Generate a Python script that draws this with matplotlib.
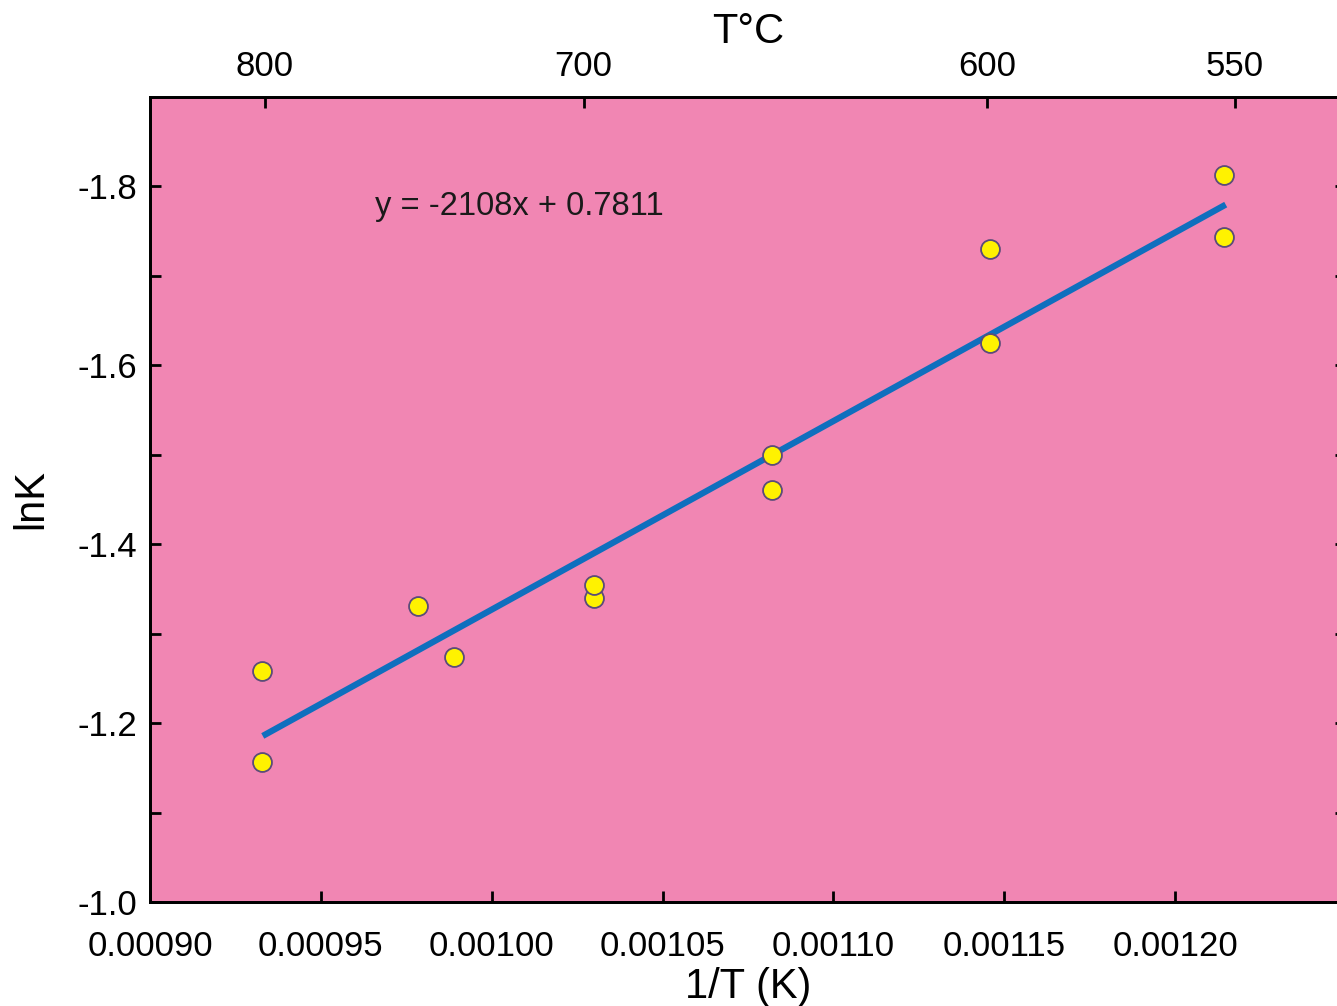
import numpy as np
import matplotlib
matplotlib.use('Agg')
import matplotlib.pyplot as plt
from matplotlib.ticker import FixedLocator

plt.rcParams['font.family'] = ['Liberation Sans', 'DejaVu Sans']

# data: 1/T (K^-1) and lnK
inv_t = [0.0009327, 0.0009327, 0.0009784, 0.0009889, 0.0010298, 0.0010298,
         0.0010819, 0.0010819, 0.0011459, 0.0011459, 0.0012143, 0.0012143]
ln_k = [-1.258, -1.156, -1.331, -1.274, -1.340, -1.354,
        -1.500, -1.461, -1.730, -1.625, -1.813, -1.743]

# linear fit as printed on the chart
slope = -2108
intercept = 0.7811
fit_range = [0.000933, 0.0012148]

# bottom axis ticks
bottom_ticks = [0.00090, 0.00095, 0.00100, 0.00105, 0.00110, 0.00115, 0.00120]

# top axis (temperature in C) tick positions in 1/T, and labels
top_ticks = [0.0009336, 0.0010269, 0.0011450, 0.0012175]
top_labels = ['800', '700', '600', '550']

STYLE = {
    'bg': '#F186B3',
    'line': '#0F6FBE',
    'marker_face': '#FFF200',
    'marker_edge': '#5A4C78',
    'tick_size': 25,
    'label_size': 30,
}
s = STYLE

fig = plt.figure(figsize=(13.37, 10.06), dpi=100)
ax = fig.add_axes([150 / 1337, 104 / 1006, 1196 / 1337, 805 / 1006])
ax.set_facecolor(s['bg'])

fx = np.array(fit_range)
ax.plot(fx, slope * fx + intercept, color=s['line'], linewidth=4.5,
        solid_capstyle='butt', zorder=2)
ax.scatter(inv_t, ln_k, s=185, color=s['marker_face'],
           edgecolor=s['marker_edge'], linewidth=1.3, zorder=3)

ax.text(0.0009658, -1.7775, 'y = -2108x + 0.7811', fontsize=23.5,
        ha='left', va='center', color='#1a1a1a')

ax.set_xlim(0.0009, 0.00125)
ax.set_ylim(-1.0, -1.9)

ax.xaxis.set_major_locator(FixedLocator(bottom_ticks))
ax.xaxis.set_major_formatter(plt.FuncFormatter(lambda v, p: f'{v:.5f}'))
ax.yaxis.set_major_locator(FixedLocator([-1.0, -1.2, -1.4, -1.6, -1.8]))
ax.yaxis.set_minor_locator(FixedLocator([-1.1, -1.3, -1.5, -1.7]))
ax.yaxis.set_major_formatter(plt.FuncFormatter(lambda v, p: f'{v:.1f}'))

ax.tick_params(axis='both', which='both', direction='in', length=8,
               width=2, labelsize=s['tick_size'])
ax.tick_params(axis='y', which='both', right=True, pad=9)
ax.tick_params(axis='x', pad=20)
for sp in ax.spines.values():
    sp.set_linewidth(2)

ax.set_xlabel('1/T (K)', fontsize=s['label_size'], labelpad=3)
ax.set_ylabel('lnK', fontsize=s['label_size'], labelpad=19)

ax2 = ax.twiny()
ax2.set_xlim(ax.get_xlim())
ax2.set_xticks(top_ticks)
ax2.set_xticklabels(top_labels)
ax2.tick_params(axis='x', direction='in', length=8, width=2,
                labelsize=s['tick_size'], pad=10)
for sp in ax2.spines.values():
    sp.set_linewidth(2)
ax2.set_xlabel('T°C', fontsize=s['label_size'], labelpad=5)

fig.savefig('out.png', dpi=100)
